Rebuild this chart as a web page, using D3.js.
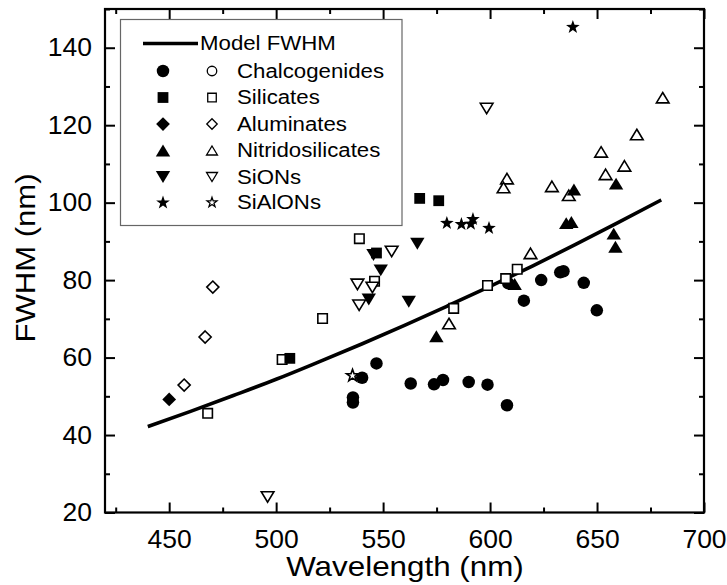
<!DOCTYPE html>
<html><head><meta charset="utf-8">
<script src="https://cdn.jsdelivr.net/npm/d3@7"></script>
<style>
html,body{margin:0;padding:0;background:#fff;}
text{font-family:"Liberation Sans",Arial,Helvetica,sans-serif;fill:#000;}
</style></head>
<body><svg id="c" width="727" height="585"></svg>
<script>
// ---- data (wavelength nm, FWHM nm) ----
const modelWavelength = [440,460,480,500,520,540,560,580,600,620,640,660,680];
const modelFWHM      = [42.2,46.1,50.2,54.4,58.9,63.5,68.3,73.3,78.4,83.7,89.2,94.9,100.7];

const chalcogenidesFilled = [[535.9,48.4],[535.9,49.7],[540.2,54.8],[546.9,58.5],[562.9,53.3],[573.8,53.1],[578,54.2],[590,53.7],[598.8,53.0],[607.9,47.7],[615.8,74.7],[608.5,79.2],[623.9,80.0],[632.8,82.0],[634.3,82.3],[643.8,79.3],[649.9,72.2]];
const chalcogenidesOpen = [];
const silicatesFilled = [[506.4,59.8],[546.9,87.0],[567.1,101.1],[576,100.5]];
const silicatesOpen = [[468,45.6],[502.8,59.5],[521.7,70.1],[538.9,90.7],[546,79.7],[583,72.7],[598.8,78.6],[607.3,80.4],[612.7,82.8]];
const aluminatesFilled = [[450,49.2]];
const aluminatesOpen = [[457,52.9],[466.8,65.3],[470.4,78.2]];
const nitridosilicatesFilled = [[574.9,65.5],[611.5,79.0],[635.6,94.7],[638,95.0],[657.8,92.0],[658.6,88.6],[658.9,104.9],[639.2,103.4]];
const nitridosilicatesOpen = [[580.8,68.8],[618.9,86.9],[607.9,106.2],[606.3,103.9],[628.9,104.2],[636.8,101.9],[651.9,113.1],[654,107.3],[662.8,109.5],[668.6,117.6],[680.7,127.1]];
const sionsFilled = [[545.5,86.5],[548.9,82.5],[543.3,75.0],[562,74.4],[566,89.4]];
const sionsOpen = [[496,24],[538,78.9],[545,78.1],[538.8,73.5],[554,87.4],[598.4,124.3]];
const sialonsFilled = [[579.8,94.9],[586.6,94.6],[591,94.7],[592,95.9],[599.5,93.6],[638.7,145.5]];
const sialonsOpen = [[535.7,55.5]];

const legendLabels = ["Chalcogenides","Silicates","Aluminates","Nitridosilicates","SiONs","SiAlONs"];
const shapeNames = ["circle","square","diamond","up","down","star"];
const xTicks = [450,500,550,600,650,700];
const yTicks = [20,40,60,80,100,120,140];
const xMinorTicks = [425,475,525,575,625,675];
const yMinorTicks = [30,50,70,90,110,130,150];

// ---- layout ----
const svg = d3.select("#c");
const L=105, R=704, T=9, B=512.5;
const x = d3.scaleLinear().domain([420,700]).range([L,R]);
const y = d3.scaleLinear().domain([20,150]).range([B,T]);

function shapePath(name, s){
  const h=s/2;
  switch(name){
    case "circle": return `M${h},0A${h},${h} 0 1,1 ${-h},0A${h},${h} 0 1,1 ${h},0Z`;
    case "square": { const a=h*0.9; return `M${-a},${-a}H${a}V${a}H${-a}Z`; }
    case "diamond": { const a=h*1.1; return `M0,${-a}L${a},0L0,${a}L${-a},0Z`; }
    case "up": { const w=h*1.15, v=h*0.95; return `M0,${-v}L${w},${v}L${-w},${v}Z`; }
    case "down": { const w=h*1.15, v=h*0.95; return `M${-w},${-v}L${w},${-v}L0,${v}Z`; }
    case "star": {
      const ro=h*1.15, ri=ro*0.4; let p="";
      for(let i=0;i<10;i++){ const r=i%2?ri:ro; const a=-Math.PI/2+i*Math.PI/5;
        p+=(i?"L":"M")+(r*Math.cos(a)).toFixed(2)+","+(r*Math.sin(a)+ro*0.1).toFixed(2);}
      return p+"Z";
    }
  }
}

// axes (inward ticks, mirrored on top/right)
(function axes(){
  const g = svg.append("g");
  const mk = (axisFn, scale, major, minor, tx, ty, labels) => {
    const a = g.append("g").attr("transform",`translate(${tx},${ty})`)
      .call(axisFn(scale).tickValues(major).tickSize(-10).tickPadding(axisFn===d3.axisBottom?18:13)
        .tickFormat(labels?d3.format("d"):""));
    const m = g.append("g").attr("transform",`translate(${tx},${ty})`)
      .call(axisFn(scale).tickValues(minor).tickSize(-5).tickFormat(""));
    [a,m].forEach(s=>{ s.select(".domain").remove(); s.selectAll("line").attr("stroke","#000").attr("stroke-width",2);});
    a.selectAll("text").attr("font-size",25).attr("data-k",1.06).attr("fill","#000");
  };
  mk(d3.axisBottom,x,xTicks,xMinorTicks,0,B,true);
  mk(d3.axisTop,x,xTicks,xMinorTicks,0,T,false);
  mk(d3.axisLeft,y,yTicks,yMinorTicks,L,0,true);
  mk(d3.axisRight,y,yTicks,yMinorTicks,R,0,false);
  g.append("rect").attr("x",L).attr("y",T).attr("width",R-L).attr("height",B-T)
    .attr("fill","none").attr("stroke","#000").attr("stroke-width",2.2);
})();

// model line
const line = d3.line().x((d,i)=>x(modelWavelength[i])).y(d=>y(d)).curve(d3.curveMonotoneX);
svg.append("path").datum(modelFWHM).attr("d",line).attr("fill","none")
  .attr("stroke","#000").attr("stroke-width",3.6);

// data points
const groups = [
  [chalcogenidesFilled,chalcogenidesOpen],[silicatesFilled,silicatesOpen],[aluminatesFilled,aluminatesOpen],
  [nitridosilicatesFilled,nitridosilicatesOpen],[sionsFilled,sionsOpen],[sialonsFilled,sialonsOpen]];
const sizes = {circle:12.5,square:12,diamond:12.5,up:12.5,down:12.5,star:12.5};
groups.forEach((gp,i)=>{
  const nm=shapeNames[i];
  svg.append("g").selectAll("path").data(gp[1]).join("path")
    .attr("d",shapePath(nm,sizes[nm]-1.5)).attr("transform",d=>`translate(${x(d[0])},${y(d[1])})`)
    .attr("fill","#fff").attr("stroke","#000").attr("stroke-width",1.6);
  svg.append("g").selectAll("path").data(gp[0]).join("path")
    .attr("d",shapePath(nm,sizes[nm])).attr("transform",d=>`translate(${x(d[0])},${y(d[1])})`)
    .attr("fill","#000");
});

// legend
const lg = svg.append("g");
lg.append("rect").attr("x",120.5).attr("y",19.5).attr("width",281.5).attr("height",206)
  .attr("fill","#fff").attr("stroke","#666").attr("stroke-width",1.2);
lg.append("line").attr("x1",143).attr("x2",198).attr("y1",43.5).attr("y2",43.5)
  .attr("stroke","#000").attr("stroke-width",3.6);
lg.append("text").attr("x",200).attr("y",43.5).attr("dy","0.35em").attr("font-size",19.5)
  .attr("data-k",1.14).text("Model FWHM");
const rowY=[71,97.5,124,150.5,177,202];
legendLabels.forEach((lab,i)=>{
  const nm=shapeNames[i];
  lg.append("path").attr("d",shapePath(nm,sizes[nm]))
    .attr("transform",`translate(163,${rowY[i]})`).attr("fill","#000");
  lg.append("path").attr("d",shapePath(nm,nm==="star"?9:9.5))
    .attr("transform",`translate(212,${rowY[i]})`).attr("fill","#fff").attr("stroke","#000").attr("stroke-width",1.3);
  lg.append("text").attr("x",237).attr("y",rowY[i]).attr("dy","0.35em").attr("font-size",19.5)
    .attr("data-k",1.14).text(lab);
});

// axis titles
svg.append("text").attr("x",405).attr("y",576).attr("text-anchor","middle").attr("font-size",28)
  .attr("data-k",1.12).text("Wavelength (nm)");
svg.append("text").attr("transform","translate(35,258) rotate(-90)").attr("text-anchor","middle")
  .attr("font-size",28).attr("data-k",1.11).text("FWHM (nm)");

// widen glyphs slightly to match the reference typography
svg.selectAll("text[data-k]").each(function(){
  const k=+this.getAttribute("data-k");
  const w=this.getComputedTextLength();
  d3.select(this).attr("textLength", w*k).attr("lengthAdjust","spacingAndGlyphs");
});
</script></body></html>
